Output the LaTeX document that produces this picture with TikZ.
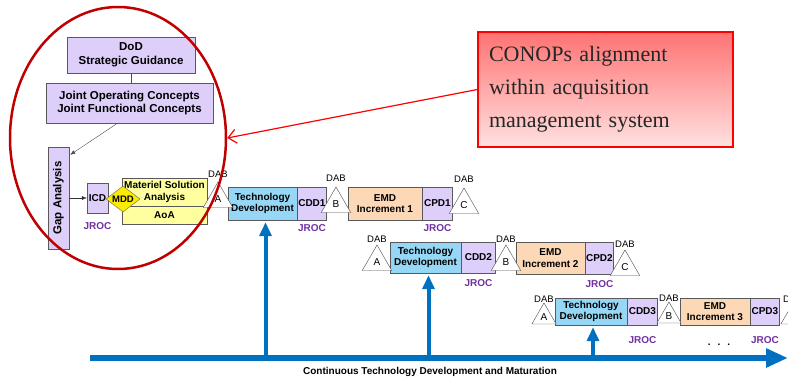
\documentclass[tikz,border=0pt]{standalone}
\usepackage{fontspec}
\setmainfont{Liberation Sans}
\newfontfamily\conopsfont{Liberation Serif}
\usepackage{xcolor}
\usepackage{tikz}
\usetikzlibrary{arrows.meta,shapes.geometric,positioning,calc}

\definecolor{lilac}{RGB}{222,206,250}
\definecolor{tdblue}{RGB}{150,215,245}
\definecolor{emdpeach}{RGB}{252,216,182}
\definecolor{msayellow}{RGB}{255,255,160}
\definecolor{mddyellow}{RGB}{250,235,0}
\definecolor{jrocpurple}{RGB}{112,48,160}
\definecolor{axisblue}{RGB}{0,112,192}
\definecolor{ringred}{RGB}{192,0,0}

\tikzset{
  box/.style={draw=black!65, inner sep=0pt, align=center, font=\bfseries\fontsize{10}{11.5}\selectfont},
  lilacbox/.style={box, fill=lilac},
  tdbox/.style={box, fill=tdblue},
  emdbox/.style={box, fill=emdpeach},
  msabox/.style={box, fill=msayellow},
  dab/.style={regular polygon, regular polygon sides=3, draw=black!70, fill=white, minimum size=34pt, inner sep=0pt, font=\fontsize{10}{11}\selectfont},
  dablabel/.style={inner sep=0pt, font=\fontsize{9.5}{10}\selectfont},
  jroc/.style={inner sep=0pt, text=jrocpurple, font=\bfseries\fontsize{10}{11}\selectfont},
  uparrow/.style={axisblue, line width=4pt, -{Triangle[width=12pt,length=14pt]}},
  conops/.style={draw=red, line width=1.2pt, top color=red!55!white, bottom color=red!12!white, text=black!85, text width=233pt, minimum height=115pt, inner sep=11pt, align=left, font=\conopsfont\fontsize{22}{33}\selectfont}
}

\begin{document}
\begin{tikzpicture}[x=1pt, y=-1pt]
	\useasboundingbox (0,0) rectangle (788,379);

	% guidance and gap analysis
	\node[lilacbox, font=\bfseries\fontsize{11.5}{14}\selectfont, minimum width=128pt, minimum height=36pt] (dod) at (131,55) {DoD\\Strategic Guidance};
	\node[lilacbox, font=\bfseries\fontsize{11.5}{13.5}\selectfont, minimum width=167pt, minimum height=40pt] (joint) at (129.5,103) {Joint Operating Concepts\\Joint Functional Concepts};
	\node[lilacbox, minimum width=21pt, minimum height=102pt] (gap) at (58.5,198) {\rotatebox{90}{\fontsize{11.5}{14}\selectfont Gap Analysis}};
	\node[lilacbox, minimum width=21pt, minimum height=30pt] (icd) at (97.5,198) {ICD};
	\node[jroc, below=9pt of icd] (jroc0) {JROC};
	\node[msabox, minimum width=85pt, minimum height=28pt] (msa) at (164.5,192) {Materiel Solution\\Analysis};
	\node[msabox, minimum width=85pt, minimum height=18pt, below=0pt of msa] (aoa) {AoA};
	\node[diamond, aspect=1.3, draw=black!60, fill=mddyellow, inner sep=0pt, minimum width=34pt, minimum height=26pt, font=\bfseries\fontsize{9.5}{10}\selectfont] (mdd) at (123,199) {MDD};

	\draw[black!70] (dod.south) -- (dod.south |- joint.north);
	\draw[black!70, -{Latex[length=5pt,width=4pt]}] ($(joint.south)+(-12,0)$) -- ($(gap.north east)+(1,8)$);
	\draw[black!80, -{Latex[length=5pt,width=4pt]}] (gap.east) -- (icd.west);

	% increment 1
	\node[tdbox, minimum width=69pt, minimum height=33pt] (td1) at (262.5,203.5) {Technology\\Development};
	\node[lilacbox, minimum width=29pt, minimum height=33pt, right=0pt of td1] (cdd1) {CDD1};
	\node[emdbox, minimum width=74pt, minimum height=33pt] (emd1) at (385,203.5) {EMD\\Increment 1};
	\node[lilacbox, minimum width=30pt, minimum height=33pt, right=0pt of emd1] (cpd1) {CPD1};
	\node[dab] (a1) at (218,199) {A};
	\node[dab] (b1) at (336,204) {B};
	\node[dab] (c1) at (464,205) {C};
	\node[dablabel, above=4pt of a1.corner 1] (dab1a) {DAB};
	\node[dablabel, above=5pt of b1.corner 1] (dab1b) {DAB};
	\node[dablabel, above=5pt of c1.corner 1] (dab1c) {DAB};
	\node[jroc, below=4pt of cdd1] (jroc1a) {JROC};
	\node[jroc, below=4pt of cpd1] (jroc1b) {JROC};

	% increment 2
	\node[tdbox, minimum width=71pt, minimum height=31pt] (td2) at (425.5,257.5) {Technology\\Development};
	\node[lilacbox, minimum width=34pt, minimum height=31pt, right=0pt of td2] (cdd2) {CDD2};
	\node[emdbox, minimum width=69pt, minimum height=32pt] (emd2) at (550.5,258) {EMD\\Increment 2};
	\node[lilacbox, minimum width=28pt, minimum height=32pt, right=0pt of emd2] (cpd2) {CPD2};
	\node[dab] (a2) at (377,262) {A};
	\node[dab] (b2) at (506,262) {B};
	\node[dab] (c2) at (625,267) {C};
	\node[dablabel, above=2pt of a2.corner 1] (dab2a) {DAB};
	\node[dablabel, above=2pt of b2.corner 1] (dab2b) {DAB};
	\node[dablabel, above=2pt of c2.corner 1] (dab2c) {DAB};
	\node[jroc, below=6pt of cdd2] (jroc2a) {JROC};
	\node[jroc, below=6pt of cpd2] (jroc2b) {JROC};

	% increment 3
	\node[tdbox, minimum width=72pt, minimum height=27pt] (td3) at (591,311.5) {Technology\\Development};
	\node[lilacbox, minimum width=30pt, minimum height=27pt, right=0pt of td3] (cdd3) {CDD3};
	\node[emdbox, minimum width=70pt, minimum height=27pt] (emd3) at (715,311.5) {EMD\\Increment 3};
	\node[lilacbox, minimum width=29pt, minimum height=27pt, right=0pt of emd3] (cpd3) {CPD3};
	\node[dab, minimum size=28pt] (a3) at (544,317) {A};
	\node[dab, minimum size=28pt] (b3) at (669,316) {B};
	\node[dab, minimum size=28pt] (c3) at (793,317) {C};
	\node[dablabel, above=0pt of a3.corner 1] (dab3a) {DAB};
	\node[dablabel, above=0pt of b3.corner 1] (dab3b) {DAB};
	\node[dablabel, above=0pt of c3.corner 1] (dab3c) {DAB};
	\node[jroc, below=11pt of cdd3] (jroc3a) {JROC};
	\node[jroc, below=11pt of cpd3] (jroc3b) {JROC};
	\node[font=\bfseries] (dots) at (719,345) {.\hspace{7pt}.\hspace{7pt}.};

	% technology development axis
	\coordinate (axisstart) at (90,358);
	\coordinate (axisend) at (788,358);
	\draw[axisblue, line width=6pt, -{Triangle[width=18pt,length=22pt]}] (axisstart) -- (axisend);
	\draw[uparrow] ([xshift=3pt]td1.south |- axisstart) -- ([xshift=3pt,yshift=-2pt]td1.south);
	\draw[uparrow] ([xshift=3pt]td2.south |- axisstart) -- ([xshift=3pt,yshift=-2pt]td2.south);
	\draw[uparrow] ([xshift=2pt]td3.south |- axisstart) -- ([xshift=2pt,yshift=-2pt]td3.south);
	\node[font=\bfseries\fontsize{10}{12}\selectfont] (axislabel) at (430,372) {Continuous Technology Development and Maturation};

	% callout
	\node[draw=ringred, line width=2.5pt, ellipse, minimum width=216pt, minimum height=262pt] (ring) at (118,138) {};
	\node[conops] (conops) at (605.5,89.5) {CONOPs alignment\\within acquisition\\management system};
	\draw[red, line width=1.2pt, -{Straight Barb[length=8pt,width=14pt]}] (conops.west) -- (ring.east);
\end{tikzpicture}
\end{document}
